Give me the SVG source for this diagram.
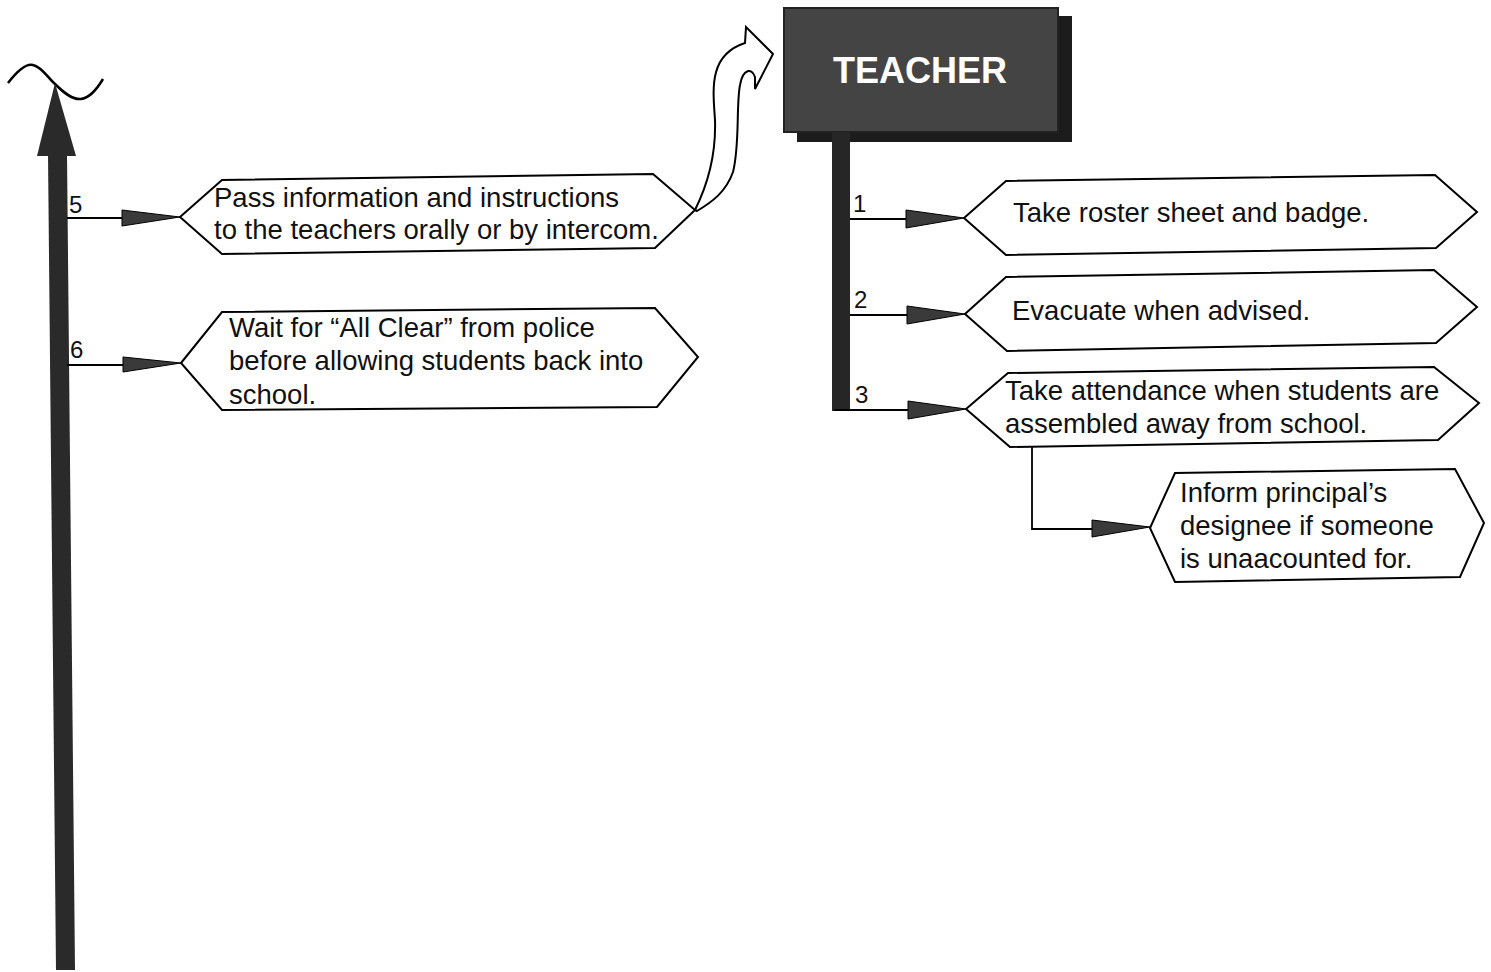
<svg xmlns="http://www.w3.org/2000/svg" width="1491" height="972" viewBox="0 0 1491 972">
<style>
.hex{fill:#fff;stroke:#000;stroke-width:2;stroke-linejoin:miter}
.t{font-family:"Liberation Sans",Arial,sans-serif;font-size:27.5px;fill:#111}
.n{font-family:"Liberation Sans",Arial,sans-serif;font-size:24px;fill:#111}
.ln{stroke:#000;stroke-width:1.8;fill:none}
.tri{fill:#3a3a3a;stroke:#000;stroke-width:1}
</style>
<rect width="1491" height="972" fill="#fff"/>
<g id="timeline">
<path d="M8,83 C18,70 26,63 33,65 C42,67 48,78 55,84 C63,92 72,100 81,99 C90,98 97,89 103,79" fill="none" stroke="#000" stroke-width="2.5"/>
<polygon points="48,154 67,154 75,970 56,970" fill="#2a2a2a"/>
<polygon points="55,83 76,156 37,156" fill="#2a2a2a"/>
</g>
<g id="teacher">
<rect x="797" y="16" width="275" height="126" fill="#1c1c1c"/>
<rect x="784" y="8" width="274" height="124" fill="#444" stroke="#222" stroke-width="2"/>
<rect x="832" y="132" width="18" height="279" fill="#262626"/>
<text x="920" y="83" text-anchor="middle" font-family="'Liberation Sans',Arial,sans-serif" font-weight="bold" font-size="36" fill="#fff">TEACHER</text>
</g>
<g id="connectors">
<line class="ln" x1="67" y1="218" x2="123" y2="218"/>
<polygon class="tri" points="122,210 180,217 122,226"/>
<text class="n" x="69" y="213">5</text>
<line class="ln" x1="67" y1="365" x2="124" y2="365"/>
<polygon class="tri" points="123,357 181,363 123,372"/>
<text class="n" x="70" y="358">6</text>
<line class="ln" x1="850" y1="219" x2="907" y2="219"/>
<polygon class="tri" points="906,210 964,218 906,228"/>
<text class="n" x="853" y="212">1</text>
<line class="ln" x1="850" y1="315" x2="908" y2="315"/>
<polygon class="tri" points="907,306 965,314 907,324"/>
<text class="n" x="854" y="308">2</text>
<line class="ln" x1="834" y1="410" x2="909" y2="410"/>
<polygon class="tri" points="908,401 966,409 908,419"/>
<text class="n" x="855" y="403">3</text>
<polyline class="ln" points="1032,447 1032,529 1093,529"/>
<polygon class="tri" points="1092,520 1150,527 1092,537"/>
<path d="M695,210 C710,180 716,150 715,120 C713,90 708,55 745,43 L746,27 L773,54 L755,89 L755,77 C752,68 743,68 740,85 C736,105 740,145 733,172 C726,192 712,202 697,211 Z" fill="#fff" stroke="#000" stroke-width="2" stroke-linejoin="miter"/>
</g>
<g id="node5">
<polygon class="hex" points="180,217 222,180 653,174 695,210 655,248 222,254"/>
<text class="t" x="214" y="207">Pass information and instructions</text>
<text class="t" x="214" y="239">to the teachers orally or by intercom.</text>
</g>
<g id="node6">
<polygon class="hex" points="181,363 222,312 655,308 698,357 657,407 222,410"/>
<text class="t" x="229" y="337">Wait for “All Clear” from police</text>
<text class="t" x="229" y="370">before allowing students back into</text>
<text class="t" x="229" y="404">school.</text>
</g>
<g id="node1">
<polygon class="hex" points="964,218 1006,181 1435,175 1477,212 1436,248 1006,255"/>
<text class="t" x="1013" y="222">Take roster sheet and badge.</text>
</g>
<g id="node2">
<polygon class="hex" points="965,314 1006,277 1434,270 1477,307 1436,343 1007,351"/>
<text class="t" x="1012" y="320">Evacuate when advised.</text>
</g>
<g id="node3">
<polygon class="hex" points="966,409 1008,373 1434,367 1479,403 1438,440 1010,447"/>
<text class="t" x="1005" y="400">Take attendance when students are</text>
<text class="t" x="1005" y="433">assembled away from school.</text>
</g>
<g id="node4">
<polygon class="hex" points="1150,528 1175,473 1455,469 1484,523 1460,577 1175,582"/>
<text class="t" x="1180" y="502">Inform principal’s</text>
<text class="t" x="1180" y="535">designee if someone</text>
<text class="t" x="1180" y="568">is unaacounted for.</text>
</g>
</svg>
